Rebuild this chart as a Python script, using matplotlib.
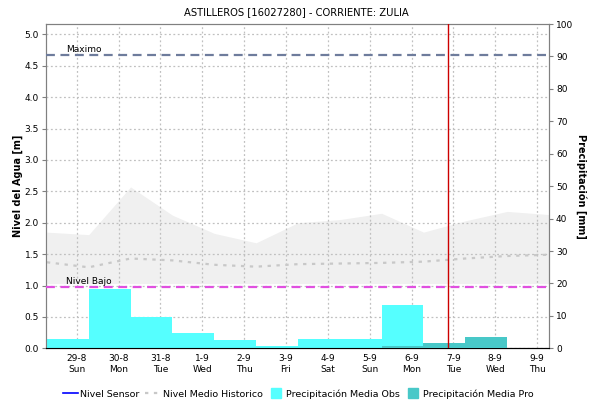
import matplotlib
matplotlib.use("Agg")
import matplotlib.pyplot as plt
from matplotlib.lines import Line2D
import numpy as np

plt.rcParams['font.family'] = ['DejaVu Sans']

# days shown on the x axis (29-8 = 0)
day_labels = ['29-8\nSun', '30-8\nMon', '31-8\nTue', '1-9\nWed', '2-9\nThu', '3-9\nFri',
              '4-9\nSat', '5-9\nSun', '6-9\nMon', '7-9\nTue', '8-9\nWed', '9-9\nThu']
day_pos = np.arange(len(day_labels))

# daily window edges: each day runs from 17:00 of the previous day
edge_offset = -0.714
x_edges = day_pos[0] + edge_offset + np.arange(13)

# historic range (upper limit) and mean level [m], sampled at window edges
hist_top = [1.85, 1.81, 2.57, 2.12, 1.83, 1.68, 2.00, 2.05, 2.15, 1.85, 2.03, 2.18, 2.13]
hist_bottom = [1.03] * 13
hist_mean = [1.37, 1.29, 1.43, 1.40, 1.33, 1.30, 1.34, 1.35, 1.36, 1.38, 1.43, 1.47, 1.49]

# precipitation [mm]: observed and forecast
obs_days = [-1, 0, 1, 2, 3, 4, 5, 6, 7, 8]
obs_mm = [5.3, 2.8, 18.4, 9.75, 4.7, 2.55, 0.7, 2.8, 2.8, 13.3]
pro_days = [8, 9, 10]
pro_mm = [0.7, 1.7, 3.5]

nivel_max = 4.667
nivel_bajo = 0.98
now_day = 8.88

fig = plt.figure(figsize=(5.9, 4.12), dpi=100)
ax = fig.add_axes([0.078, 0.1546, 0.8525, 0.7871])
ax2 = ax.twinx()

xmin, xmax = -0.735, 11.286

ax.fill_between(x_edges, hist_bottom, hist_top, color='#f0f0f0', lw=0, zorder=1)
ax.plot(x_edges, hist_mean, color='#c8c8c8', lw=1.6, ls=(0, (1.5, 2.5)), zorder=3)
ax.set_xticks(day_pos)
ax.set_xticklabels(day_labels, fontsize=6.5, linespacing=1.25)
ax.set_yticks(np.arange(0, 5.01, 0.5))
ax.set_yticklabels(['%.1f' % v for v in np.arange(0, 5.01, 0.5)], fontsize=6.5)
ax.grid(True, color='#c0c0c0', ls=(0, (1.5, 2)), lw=0.9, zorder=2)
ax.set_axisbelow(False)
ax.set_xlim(xmin, xmax)
ax.set_ylim(0, 5.164)
ax.set_ylabel('Nivel del Agua [m]', fontsize=7, fontweight='bold', labelpad=1)

ax2.bar([d + edge_offset for d in obs_days], obs_mm, width=1.0, align='edge',
        color='#55ffff', lw=0, zorder=2)
ax2.bar([d + edge_offset for d in pro_days], pro_mm, width=1.0, align='edge',
        color='#48c8c8', lw=0, zorder=3)

# threshold lines and current-time marker, in water-level units
ax2.plot([xmin, xmax], [nivel_max] * 2, transform=ax.transData,
         color='#6e7c9c', lw=1.6, ls=(0, (4, 2.5)), zorder=5)
ax2.plot([xmin, xmax], [nivel_bajo] * 2, transform=ax.transData,
         color='#e050e0', lw=1.6, ls=(0, (4, 2.5)), zorder=5)
ax2.text(-0.25, nivel_max + 0.02, 'Maximo', transform=ax.transData,
         fontsize=6.5, va='bottom', zorder=6)
ax2.text(-0.25, nivel_bajo + 0.02, 'Nivel Bajo', transform=ax.transData,
         fontsize=6.5, va='bottom', zorder=6)
ax2.axvline(now_day, color='#cc0000', lw=1.0, zorder=6)

ax2.set_ylim(0, 100)
ax2.set_yticks(np.arange(0, 101, 10))
ax2.set_yticklabels([str(v) for v in range(0, 101, 10)], fontsize=6.5)
ax2.set_ylabel('Precipitación [mm]', fontsize=7, fontweight='bold', rotation=-90, labelpad=10)
ax2.set_xlim(xmin, xmax)

for a in (ax, ax2):
    for s in ('left', 'right', 'top'):
        a.spines[s].set_color('#808080')
    a.spines['bottom'].set_linestyle((0, (1, 1)))
    a.spines['bottom'].set_color('black')
    a.tick_params(axis='both', length=3, width=0.8, color='#808080', pad=2)
ax.tick_params(axis='x', length=0, pad=4)

handles = [Line2D([], [], color='#0000ff', lw=1.2),
           Line2D([], [], color='#c8c8c8', lw=1.6, ls=(0, (1.5, 2.5))),
           Line2D([], [], color='#55ffff', marker='s', ls='none', markersize=7),
           Line2D([], [], color='#48c8c8', marker='s', ls='none', markersize=7)]
labels = ['Nivel Sensor', 'Nivel Medio Historico', 'Precipitación Media Obs',
          'Precipitación Media Pro']
fig.legend(handles, labels, loc='center', bbox_to_anchor=(0.505, 0.044), ncol=4,
           frameon=False, fontsize=6.8, handlelength=1.6, handletextpad=0.25,
           columnspacing=0.6)

fig.text(0.503, 0.97, 'ASTILLEROS [16027280] - CORRIENTE: ZULIA', ha='center',
         va='center', fontsize=7.2)

fig.savefig('out.png', dpi=100)
